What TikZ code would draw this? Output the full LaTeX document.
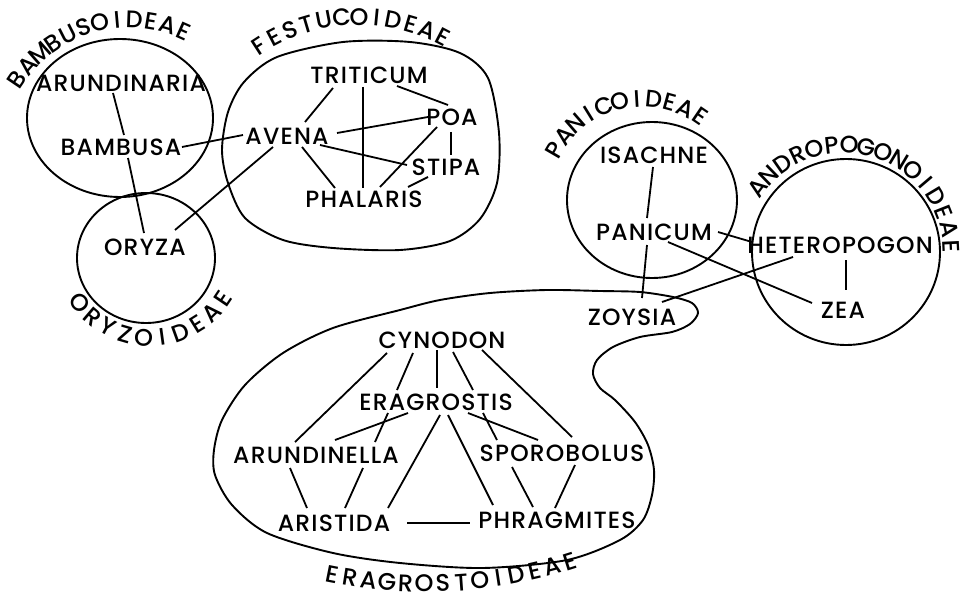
\documentclass[tikz,border=0pt]{standalone}
\usepackage{fontspec}
\IfFontExistsTF{Poppins Medium}{\setmainfont{Poppins Medium}}{%
  \IfFontExistsTF{Poppins}{\setmainfont{Poppins}}{\setmainfont{DejaVu Sans}}}
\newcommand\taxfont{\fontsize{23.5}{23.5}\selectfont\addfontfeatures{LetterSpace=5}}
\newcommand\grpfont{\fontsize{24}{24}\selectfont}
% letters of a group name set one by one along an ellipse arc
% #1 prefix, #2 cx, #3 cy, #4 rx, #5 ry, #6 t0, #7 t1, #8 n, #9 letters
\newcommand\arclabel[9]{%
  \foreach \ch [count=\ci] in {#9} {
    \pgfmathsetmacro\lt{(#6)+(\ci-0.5)*((#7)-(#6))/(#8)}
    \pgfmathsetmacro\ls{sign((#7)-(#6))}
    \pgfmathsetmacro\lr{atan2(-(\ls)*(#5)*cos(\lt), -(\ls)*(#4)*sin(\lt))}
    \node[grpletter, rotate=\lr, anchor=base] (#1\ci) at ({(#2)+(#4)*cos(\lt)},{(#3)+(#5)*sin(\lt)}) {\ch};
  }}
\begin{document}
\begin{tikzpicture}[x=1pt,y=-1pt,
  taxon/.style={inner sep=0pt, outer sep=0pt, font=\taxfont},
  grpletter/.style={inner sep=0pt, outer sep=0pt, font=\grpfont},
  link/.style={line width=1.8pt},
  group/.style={line width=1.9pt}
  ]
\useasboundingbox (0,0) rectangle (972,599);

% ---------- group outlines
\draw[group] (120,118) ellipse [x radius=93, y radius=79];
\draw[group] (146,258) ellipse [x radius=69, y radius=65];
\draw[group] plot[smooth cycle] coordinates {(343,42) (410,42) (460,53) (488,78) (499,133) (497,183) (480,219) (450,241) (400,250) (333,248) (283,240) (245,218) (228,183) (222,150) (228,112) (244,82) (277,57)};
\draw[group] (652,200) ellipse [x radius=85, y radius=78];
\draw[group] (846,252) ellipse [x radius=94, y radius=93];
\draw[group] plot[smooth cycle] coordinates {(400,310) (440,300) (490,293) (547,290) (600,291) (640,292) (673,297) (692,303) (698,313) (690,324) (672,332) (640,337) (613,347) (597,360) (593,374) (600,388) (615,400) (635,422) (648,445) (654,470) (652,495) (643,520) (620,540) (567,560) (483,568) (400,563) (333,553) (267,533) (232,505) (215,475) (214,450) (222,420) (245,385) (283,353) (333,328)};

% ---------- group labels
\arclabel{bam}{129}{155}{127}{127}{-149.6}{-62.4}{12}{B,A,M,B,U,S,O,I,D,E,A,E}
\arclabel{fes}{359}{200}{175}{175}{-125.6}{-59.9}{12}{F,E,S,T,U,C,O,I,D,E,A,E}
\arclabel{ory}{150}{249}{97}{97}{-211.6}{-332.1}{10}{O,R,Y,Z,O,I,D,E,A,E}
\arclabel{pan}{643}{201}{94}{94}{-154.6}{-51.1}{11}{P,A,N,I,C,O,I,D,E,A,E}
\arclabel{and}{844}{252}{99}{99}{-148.3}{1.9}{16}{A,N,D,R,O,P,O,G,O,N,O,I,D,E,A,E}
\arclabel{era}{426}{103}{489}{489}{-257.6}{-288.6}{14}{E,R,A,G,R,O,S,T,O,I,D,E,A,E}

% ---------- taxa
\node[taxon] (aria) at (121,83) {ARUNDINARIA};
\node[taxon] (bamb) at (121,147) {BAMBUSA};
\node[taxon] (oryz) at (145,247) {ORYZA};
\node[taxon] (trit) at (369,75) {TRITICUM};
\node[taxon] (poa) at (452,117) {POA};
\node[taxon] (aven) at (287,136) {AVENA};
\node[taxon] (stip) at (446,167) {STIPA};
\node[taxon] (phal) at (364,199) {PHALARIS};
\node[taxon] (isac) at (654,155) {ISACHNE};
\node[taxon] (pani) at (654,232) {PANICUM};
\node[taxon] (hete) at (840,245) {HETEROPOGON};
\node[taxon] (zea) at (843,310) {ZEA};
\node[taxon] (zoys) at (632,317) {ZOYSIA};
\node[taxon] (cyno) at (442,340) {CYNODON};
\node[taxon] (erag) at (436,402) {ERAGROSTIS};
\node[taxon] (arul) at (316,455) {ARUNDINELLA};
\node[taxon] (spor) at (562,453) {SPOROBOLUS};
\node[taxon] (aris) at (334,523) {ARISTIDA};
\node[taxon] (phra) at (557,520) {PHRAGMITES};

% ---------- links
\draw[link] ([shift={(-8,10)}]aria.center) -- ([shift={(3,-12)}]bamb.center);
\draw[link] ([shift={(7,11)}]bamb.center) -- ([shift={(-1,-14)}]oryz.center);
\draw[link] ([shift={(61,0)}]bamb.center) -- ([shift={(-44,-1)}]aven.center);
\draw[link] ([shift={(-14,11)}]aven.center) -- ([shift={(30,-17)}]oryz.center);
\draw[link] ([shift={(-36,13)}]trit.center) -- ([shift={(18,-14)}]aven.center);
\draw[link] ([shift={(-6,12)}]trit.center) -- ([shift={(-1,-11)}]phal.center);
\draw[link] ([shift={(28,11)}]trit.center) -- ([shift={(-4,-12)}]poa.center);
\draw[link] ([shift={(50,-3)}]aven.center) -- ([shift={(-24,0)}]poa.center);
\draw[link] ([shift={(33,9)}]aven.center) -- ([shift={(-39,-2)}]stip.center);
\draw[link] ([shift={(15,11)}]aven.center) -- ([shift={(-29,-11)}]phal.center);
\draw[link] ([shift={(-1,15)}]poa.center) -- ([shift={(5,-12)}]stip.center);
\draw[link] ([shift={(-15,10)}]poa.center) -- ([shift={(16,-12)}]phal.center);
\draw[link] ([shift={(-18,10)}]stip.center) -- ([shift={(44,-12)}]phal.center);

\draw[link] ([shift={(-1,12)}]isac.center) -- ([shift={(-7,-14)}]pani.center);
\draw[link] ([shift={(-7,13)}]pani.center) -- ([shift={(10,-19)}]zoys.center);
\draw[link] ([shift={(64,0)}]pani.center) -- ([shift={(-88,-3)}]hete.center);
\draw[link] ([shift={(14,10)}]pani.center) -- ([shift={(-31,-7)}]zea.center);
\draw[link] ([shift={(-47,12)}]hete.center) -- ([shift={(30,-15)}]zoys.center);
\draw[link] ([shift={(6,15)}]hete.center) -- ([shift={(3,-20)}]zea.center);

\draw[link] ([shift={(-55,13)}]cyno.center) -- ([shift={(-21,-13)}]arul.center);
\draw[link] ([shift={(-5,10)}]cyno.center) -- ([shift={(1,-14)}]erag.center);
\draw[link] ([shift={(-29,13)}]cyno.center) -- ([shift={(-39,-12)}]erag.center);
\draw[link] ([shift={(-48,11)}]erag.center) -- ([shift={(59,-13)}]arul.center);
\draw[link] ([shift={(11,12)}]cyno.center) -- ([shift={(37,-12)}]erag.center);
\draw[link] ([shift={(47,11)}]erag.center) -- ([shift={(-65,-13)}]spor.center);
\draw[link] ([shift={(40,10)}]cyno.center) -- ([shift={(10,-16)}]spor.center);
\draw[link] ([shift={(-28,11)}]erag.center) -- ([shift={(19,-15)}]arul.center);
\draw[link] ([shift={(32,11)}]erag.center) -- ([shift={(-24,-13)}]spor.center);
\draw[link] ([shift={(4,13)}]erag.center) -- ([shift={(54,-15)}]aris.center);
\draw[link] ([shift={(12,13)}]erag.center) -- ([shift={(-64,-15)}]phra.center);
\draw[link] ([shift={(-26,13)}]arul.center) -- ([shift={(-27,-15)}]aris.center);
\draw[link] ([shift={(47,13)}]arul.center) -- ([shift={(11,-15)}]aris.center);
\draw[link] ([shift={(-50,14)}]spor.center) -- ([shift={(-24,-13)}]phra.center);
\draw[link] ([shift={(13,12)}]spor.center) -- ([shift={(-2,-12)}]phra.center);
\draw[link] ([shift={(73,0)}]aris.center) -- ([shift={(-87,3)}]phra.center);
\end{tikzpicture}
\end{document}
